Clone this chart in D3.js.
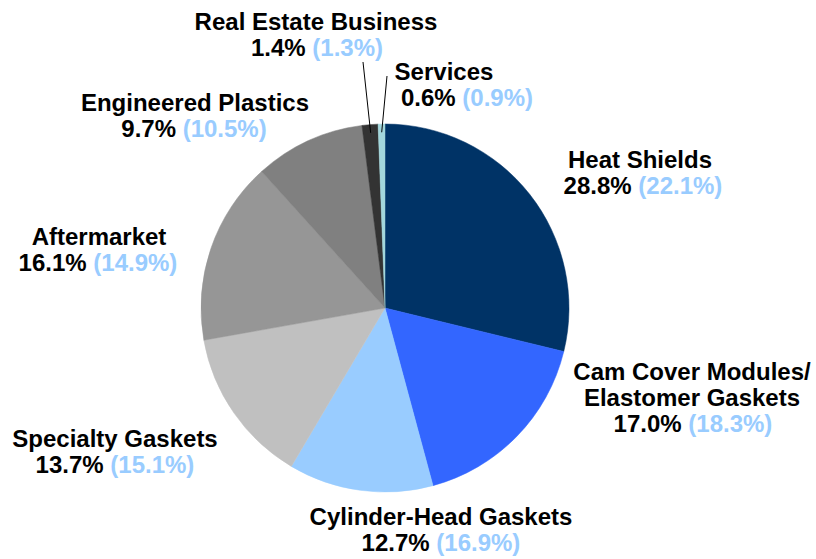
<!DOCTYPE html>
<html>
<head>
<meta charset="utf-8">
<script src="https://cdn.jsdelivr.net/npm/d3@7"></script>
<style>
  html, body { margin: 0; padding: 0; background: #ffffff; }
  svg { display: block; }
  text { font-family: "Liberation Sans", Arial, Helvetica, sans-serif; font-weight: bold; }
</style>
</head>
<body>
<svg id="chart" width="816" height="559"></svg>
<script>
// Segment shares of sales: current year, with prior year in brackets
const categories = [
  "Heat Shields",
  "Cam Cover Modules/ Elastomer Gaskets",
  "Cylinder-Head Gaskets",
  "Specialty Gaskets",
  "Aftermarket",
  "Engineered Plastics",
  "Real Estate Business",
  "Services"
];
const shares = [28.8, 17.0, 12.7, 13.7, 16.1, 9.7, 1.4, 0.6];
const priorShares = [22.1, 18.3, 16.9, 15.1, 14.9, 10.5, 1.3, 0.9];
const nameLines = [
  ["Heat Shields"],
  ["Cam Cover Modules/", "Elastomer Gaskets"],
  ["Cylinder-Head Gaskets"],
  ["Specialty Gaskets"],
  ["Aftermarket"],
  ["Engineered Plastics"],
  ["Real Estate Business"],
  ["Services"]
];
const sliceColors = ["#003366", "#3366FF", "#99CCFF", "#C0C0C0", "#969696", "#808080", "#333333", "#A3D7DC"];

// Label placement: centre x of the name lines, centre x of the value line, first baseline
const labelLayout = [
  { x: 640, vx: 643, y: 168 },
  { x: 692, vx: 693, y: 380 },
  { x: 441, vx: 441, y: 525 },
  { x: 115, vx: 115, y: 447 },
  { x: 99,  vx: 98,  y: 245 },
  { x: 195, vx: 194, y: 111 },
  { x: 316, vx: 317, y: 30 },
  { x: 444, vx: 467, y: 80 }
];
// Leader lines for the two thin slices: start point near the label
const leaders = [
  { index: 6, x: 363, y: 62 },
  { index: 7, x: 387, y: 76 }
];

const cx = 385, cy = 308, radius = 184;
const fontSize = 24, lineGap = 26;

const svg = d3.select("#chart");
const g = svg.append("g").attr("transform", `translate(${cx},${cy})`);

const data = categories.map((c, i) => ({ name: c, value: shares[i], prior: priorShares[i], i }));

const pie = d3.pie().sort(null).value(d => d.value);
const arcs = pie(data);

const arc = d3.arc().innerRadius(0).outerRadius(radius);

g.selectAll("path.slice")
  .data(arcs)
  .join("path")
  .attr("class", "slice")
  .attr("d", arc)
  .attr("fill", d => sliceColors[d.data.i])
  .attr("stroke", d => sliceColors[d.data.i])
  .attr("stroke-width", 0.5);

// Leader lines from labels into the thin slices
leaders.forEach(l => {
  const a = arcs[l.index];
  const mid = (a.startAngle + a.endAngle) / 2;
  const r = radius * 0.955;
  const ex = cx + r * Math.sin(mid);
  const ey = cy - r * Math.cos(mid);
  svg.append("line")
    .attr("x1", l.x).attr("y1", l.y)
    .attr("x2", ex).attr("y2", ey)
    .attr("stroke", "#000")
    .attr("stroke-width", 1);
});

// Labels
const fmt = d3.format(".1f");
const labels = svg.append("g").attr("class", "labels");
data.forEach((d, i) => {
  const lay = labelLayout[i];
  const lines = nameLines[i];
  lines.forEach((ln, k) => {
    labels.append("text")
      .attr("x", lay.x)
      .attr("y", lay.y + k * lineGap)
      .attr("text-anchor", "middle")
      .attr("font-size", fontSize)
      .attr("fill", "#000")
      .text(ln);
  });
  const t = labels.append("text")
    .attr("x", lay.vx)
    .attr("y", lay.y + lines.length * lineGap)
    .attr("text-anchor", "middle")
    .attr("font-size", fontSize);
  t.append("tspan").attr("fill", "#000").text(fmt(d.value) + "% ");
  t.append("tspan").attr("fill", "#99CCFF").text("(" + fmt(d.prior) + "%)");
});
</script>
</body>
</html>
